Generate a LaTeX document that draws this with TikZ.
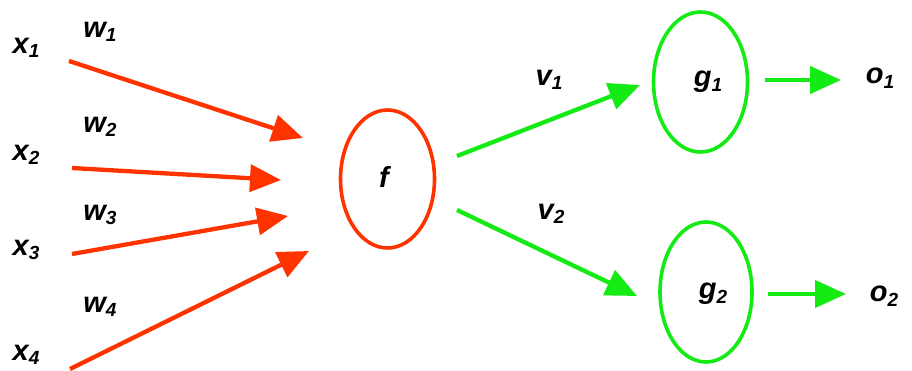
\documentclass[tikz,border=0pt]{standalone}
\usepackage{fontspec}
\setmainfont{Liberation Sans}
\usetikzlibrary{arrows.meta,shapes.geometric}
\definecolor{nred}{RGB}{255,51,0}
\definecolor{ngreen}{RGB}{20,235,20}
\newcommand\lbl[2]{#1\raisebox{-0.3ex}{\fontsize{19}{21}\selectfont #2}}
\tikzset{
  lab/.style={font=\fontsize{29}{32}\selectfont\bfseries\itshape, inner sep=0pt},
  redarr/.style={draw=nred, line width=4.3pt, -{Triangle[length=31pt,width=27pt]}},
  grnarr/.style={draw=ngreen, line width=4.3pt, -{Triangle[length=31pt,width=27pt]}},
  redell/.style={draw=nred, line width=3.6pt, ellipse, inner sep=0pt},
  grnell/.style={draw=ngreen, line width=3.6pt, ellipse, inner sep=0pt},
}
\begin{document}
\begin{tikzpicture}[x=1pt,y=-1pt]
\useasboundingbox (0,0) rectangle (912,371);
% input labels
\node[lab] (x1) at (26,48) {\lbl{x}{1}};
\node[lab] (x2) at (26,155) {\lbl{x}{2}};
\node[lab] (x3) at (26,250) {\lbl{x}{3}};
\node[lab] (x4) at (26,355) {\lbl{x}{4}};
\node[lab] (w1) at (100,32) {\lbl{w}{1}};
\node[lab] (w2) at (100,127) {\lbl{w}{2}};
\node[lab] (w3) at (100,215) {\lbl{w}{3}};
\node[lab] (w4) at (100,307) {\lbl{w}{4}};
% f
\node[redell, minimum width=94pt, minimum height=138pt] (fe) at (387.5,179) {};
\node[lab] (f) at (384,177) {f};
% g
\node[grnell, minimum width=94pt, minimum height=140pt] (g1e) at (700.5,82) {};
\node[lab] (g1) at (708,82) {\lbl{g}{1}};
\node[grnell, minimum width=92pt, minimum height=140pt] (g2e) at (706,292) {};
\node[lab] (g2) at (713,294) {\lbl{g}{2}};
% outputs
\node[lab] (o1) at (880,78) {\lbl{o}{1}};
\node[lab] (o2) at (884,296) {\lbl{o}{2}};
\node[lab] (v1) at (549,80) {\lbl{v}{1}};
\node[lab] (v2) at (551,214) {\lbl{v}{2}};
% arrow endpoints
\coordinate (a1s) at (69,61);   \coordinate (a1e) at (303,138);
\coordinate (a2s) at (72,168);  \coordinate (a2e) at (281,180);
\coordinate (a3s) at (72,254);  \coordinate (a3e) at (288,216);
\coordinate (a4s) at (70,369);  \coordinate (a4e) at (309,251);
\coordinate (b1s) at (457,156); \coordinate (b1e) at (640,85);
\coordinate (b2s) at (457,210); \coordinate (b2e) at (637,296);
\coordinate (c1s) at (765,80);  \coordinate (c1e) at (841,80);
\coordinate (c2s) at (768,294); \coordinate (c2e) at (846,294);
\draw[redarr] (a1s) -- (a1e);
\draw[redarr] (a2s) -- (a2e);
\draw[redarr] (a3s) -- (a3e);
\draw[redarr] (a4s) -- (a4e);
\draw[grnarr] (b1s) -- (b1e);
\draw[grnarr] (b2s) -- (b2e);
\draw[grnarr] (c1s) -- (c1e);
\draw[grnarr] (c2s) -- (c2e);
\end{tikzpicture}
\end{document}
